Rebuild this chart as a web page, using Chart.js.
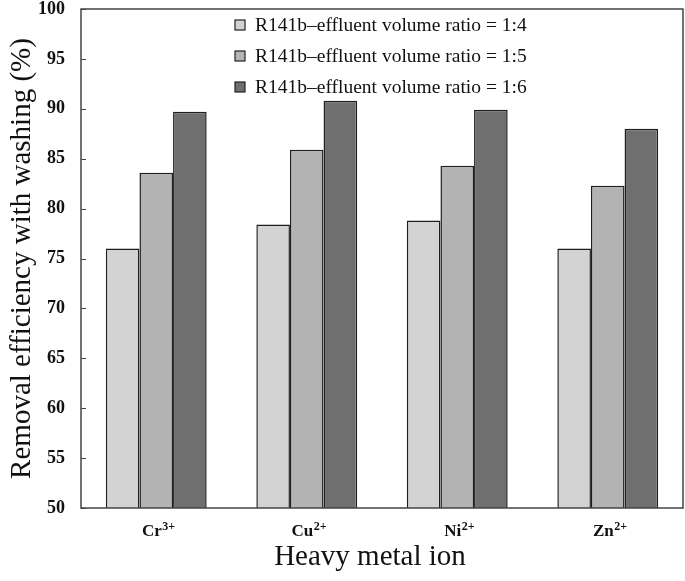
<!DOCTYPE html>
<html>
<head>
<meta charset="utf-8">
<script src="https://cdn.jsdelivr.net/npm/chart.js@4.4.0/dist/chart.umd.min.js"></script>
<style>
    html, body { margin: 0; padding: 0; background: #ffffff; }
    #divChart { width: 685px; height: 581px; position: relative; }
</style>
</head>
<body>
<div id="divChart"><canvas id="cnvRemovalChart"></canvas></div>
<script>
/**
 * DATA
 */
const ions = ['Cr', 'Cu', 'Ni', 'Zn'];
const charges = ['3+', '2+', '2+', '2+'];
const seriesNames = [
    'R141b\u2013effluent volume ratio = 1:4',
    'R141b\u2013effluent volume ratio = 1:5',
    'R141b\u2013effluent volume ratio = 1:6'
];
const ratio14 = [76.0, 78.4, 78.8, 76.0];
const ratio15 = [83.6, 85.9, 84.3, 82.3];
const ratio16 = [89.7, 90.8, 89.9, 88.0];
const yTicks = [50, 55, 60, 65, 70, 75, 80, 85, 90, 95, 100];
const xTitle = 'Heavy metal ion';
const yTitle = 'Removal efficiency with washing (%)';

const serif = '"Liberation Serif", "Times New Roman", serif';
const barColors = ['#d3d3d3', '#b3b3b3', '#6f6f6f'];

/**
 * FUNCTIONS
 */

/**
 * draws the box round the plot and the small inward ticks on the y axis
 */
const framePlugin = {
    id: 'frame',
    afterDraw(chart) {
        let ctx = chart.ctx;
        let area = chart.chartArea;
        let yScale = chart.scales.y;
        ctx.save();
        ctx.strokeStyle = '#444';
        ctx.lineWidth = 1.5;
        ctx.strokeRect(area.left, area.top, area.right - area.left, area.bottom - area.top);
        ctx.lineWidth = 1;
        yTicks.forEach(t => {
            let y = Math.round(yScale.getPixelForValue(t)) + 0.5;
            ctx.beginPath();
            ctx.moveTo(area.left, y);
            ctx.lineTo(area.left + 5, y);
            ctx.stroke();
        });
        ctx.restore();
    }
};

/**
 * x labels with raised charge (e.g. Cr3+) and the x title
 */
const ionLabelPlugin = {
    id: 'ionLabels',
    afterDraw(chart) {
        let ctx = chart.ctx;
        let xScale = chart.scales.x;
        ctx.save();
        ctx.fillStyle = '#111';
        ctx.textBaseline = 'alphabetic';
        for (let i = 0; i < ions.length; i++) {
            let cx = xScale.getPixelForTick(i) + 2;
            ctx.font = 'bold 17px ' + serif;
            let wBase = ctx.measureText(ions[i]).width;
            ctx.font = 'bold 12px ' + serif;
            let wSup = ctx.measureText(charges[i]).width;
            let x = cx - (wBase + wSup) / 2;
            let y = 536;
            ctx.font = 'bold 17px ' + serif;
            ctx.fillText(ions[i], x, y);
            ctx.font = 'bold 12px ' + serif;
            ctx.fillText(charges[i], x + wBase + 0.5, y - 6);
        }
        //x title sits a little left of the plot centre in the original
        ctx.font = '29px ' + serif;
        ctx.textAlign = 'center';
        ctx.textBaseline = 'middle';
        ctx.fillText(xTitle, 370, 557);
        ctx.restore();
    }
};

/**
 * legend inside the plot, read from the datasets
 */
const legendPlugin = {
    id: 'insideLegend',
    afterDraw(chart) {
        let ctx = chart.ctx;
        let x = 235;
        let y = 25;
        ctx.save();
        ctx.font = '19.5px ' + serif;
        ctx.textBaseline = 'middle';
        chart.data.datasets.forEach(ds => {
            ctx.fillStyle = ds.backgroundColor;
            ctx.fillRect(x, y - 5, 10, 10);
            ctx.strokeStyle = '#222';
            ctx.lineWidth = 1.2;
            ctx.strokeRect(x, y - 5, 10, 10);
            ctx.fillStyle = '#111';
            ctx.fillText(ds.label, x + 20, y + 1);
            y += 31;
        });
        ctx.restore();
    }
};

/**
 * builds the datasets from the arrays above
 */
function BuildDatasets() {
    let values = [ratio14, ratio15, ratio16];
    let datasets = [];
    for (let i = 0; i < values.length; i++) {
        datasets.push({
            label: seriesNames[i],
            data: values[i],
            backgroundColor: barColors[i],
            borderColor: '#1e1e1e',
            borderWidth: 1.5,
            borderSkipped: 'start',
            base: 50
        });
    }
    return datasets;
}

/**
 * creates the chart
 */
function PaintChart() {
    let canvas = document.querySelector('#cnvRemovalChart');
    let myChart = new Chart(canvas, {
        type: 'bar',
        data: {
            labels: ions.map((ion, i) => ion + charges[i]),
            datasets: BuildDatasets()
        },
        options: {
            responsive: true,
            maintainAspectRatio: false,
            animation: false,
            devicePixelRatio: 1,
            layout: { padding: { top: 9, right: 2, left: 0, bottom: 0 } },
            datasets: {
                bar: { categoryPercentage: 0.67, barPercentage: 1.0 }
            },
            plugins: {
                legend: { display: false },
                tooltip: { enabled: false }
            },
            scales: {
                x: {
                    grid: { display: false, drawTicks: false },
                    border: { display: false },
                    ticks: { display: false },
                    afterFit(scale) { scale.height = 73; }
                },
                y: {
                    min: 50,
                    max: 100,
                    afterBuildTicks(scale) {
                        scale.ticks = yTicks.map(v => ({ value: v }));
                    },
                    grid: { display: false, drawTicks: false },
                    border: { display: false },
                    ticks: {
                        color: '#111',
                        padding: 16,
                        font: { family: serif, size: 18, weight: 'bold' }
                    },
                    title: {
                        display: true,
                        text: yTitle,
                        color: '#111',
                        font: { family: serif, size: 29 },
                        padding: { top: 5, bottom: 0 }
                    },
                    afterFit(scale) {
                        scale.width = 81;
                        //no extra room for the half label above 100
                        scale.paddingTop = 0;
                        scale.paddingBottom = 0;
                    }
                }
            }
        },
        plugins: [framePlugin, ionLabelPlugin, legendPlugin]
    });
}

PaintChart();
</script>
</body>
</html>
